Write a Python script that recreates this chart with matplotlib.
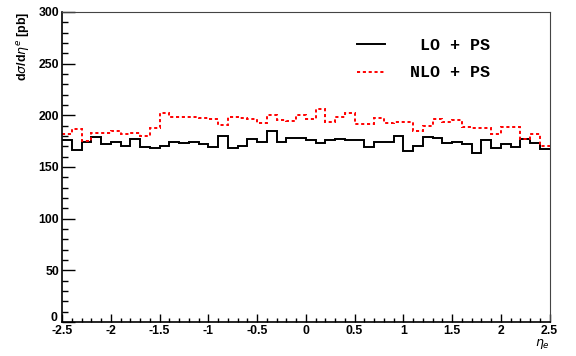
import matplotlib.pyplot as plt
import numpy as np
from matplotlib.ticker import MultipleLocator, FuncFormatter

# eta_e bins: 50 bins between -2.5 and 2.5
eta_min, eta_max, n_bins = -2.5, 2.5, 50

# LO + PS, d sigma / d eta (pb)
lo_ps = [176, 166.5, 174.5, 178.7, 172, 174.5, 170.6, 177, 169, 168.6,
         170.6, 173.9, 172.9, 173.9, 172.6, 169.7, 180.3, 168, 170.3, 177,
         173.9, 184.8, 173.9, 177.7, 178.4, 176, 172.9, 176, 177, 176,
         176, 169.7, 173.9, 174.5, 180, 165.8, 170.3, 178.7, 177.7, 172.9,
         174.5, 172, 163.2, 176, 168.6, 172, 169.7, 176.7, 172.9, 167]

# NLO + PS
nlo_ps = [181.6, 186.5, 175.5, 183.2, 183, 185, 181.6, 183, 180.3, 187.4,
          202.5, 198.7, 198, 198, 197.7, 196.5, 190.6, 198.7, 197, 196,
          192.9, 200.3, 195.5, 194.8, 200.3, 196, 206.1, 193.2, 198.7, 202,
          191.3, 191.6, 197, 192.2, 193.9, 193.9, 185.2, 189.9, 196, 193.9,
          195, 189, 187.4, 187.4, 181.6, 188.4, 188.4, 177.5, 182, 170]

x_ticks = [-2.5, -2, -1.5, -1, -0.5, 0, 0.5, 1, 1.5, 2, 2.5]
x_tick_labels = ['-2.5', '-2', '-1.5', '-1', '-0.5', '0', '0.5', '1', '1.5', '2', '2.5']

edges = np.linspace(eta_min, eta_max, n_bins + 1)
tick_font = dict(family='Liberation Sans', weight='bold', size=8.8)

fig = plt.figure(figsize=(5.76, 3.56), dpi=100)
ax = fig.add_axes([62 / 576, 1 - 322 / 356, 487.5 / 576, 310 / 356])

ax.stairs(lo_ps, edges, baseline=None, color='black', linewidth=1.4, label=' LO + PS')
ax.stairs(nlo_ps, edges, baseline=None, color='red', linewidth=1.4,
          linestyle=(0, (1.6, 1.4)), label='NLO + PS')

ax.set_xlim(eta_min, eta_max)
ax.set_ylim(0, 300)
ax.set_xticks(x_ticks)
ax.set_xticklabels(x_tick_labels)
ax.xaxis.set_minor_locator(MultipleLocator(0.1))
ax.yaxis.set_major_locator(MultipleLocator(50))
ax.yaxis.set_minor_locator(MultipleLocator(10))
# "0" is written separately below, slightly raised above the x labels
ax.yaxis.set_major_formatter(FuncFormatter(lambda v, pos: '' if v == 0 else f'{v:g}'))

ax.tick_params(axis='both', which='both', direction='in', top=False, right=False)
ax.tick_params(axis='y', which='major', length=9.4, width=1, pad=2)
ax.tick_params(axis='y', which='minor', length=4.5, width=1)
ax.tick_params(axis='x', which='major', length=5.8, width=1, pad=2.5)
ax.tick_params(axis='x', which='minor', length=3, width=1)

for lbl in ax.get_xticklabels() + ax.get_yticklabels():
    lbl.set_fontfamily(tick_font['family'])
    lbl.set_fontweight(tick_font['weight'])
    lbl.set_fontsize(tick_font['size'])

ax.text(-0.009, 0.004, '0', transform=ax.transAxes, ha='right', va='baseline', **tick_font)

for side in ['left', 'bottom']:
    ax.spines[side].set_linewidth(1.2)
for side in ['top', 'right']:
    ax.spines[side].set_linewidth(0.8)
    ax.spines[side].set_color('#444444')

ax.set_ylabel(r'd$\sigma$/d$\eta^{e}$ [pb]', loc='top', fontfamily='Liberation Sans',
              fontweight='bold', fontsize=9, labelpad=5)
ax.set_xlabel(r'$\eta_{e}$', loc='right', fontsize=9, labelpad=0)

ax.legend(loc='upper left', bbox_to_anchor=(0.575, 0.965), frameon=False,
          prop={'family': 'Liberation Mono', 'weight': 'bold', 'size': 12},
          handlelength=1.65, handletextpad=1.5, labelspacing=0.75)

fig.savefig('out.png', dpi=100)
